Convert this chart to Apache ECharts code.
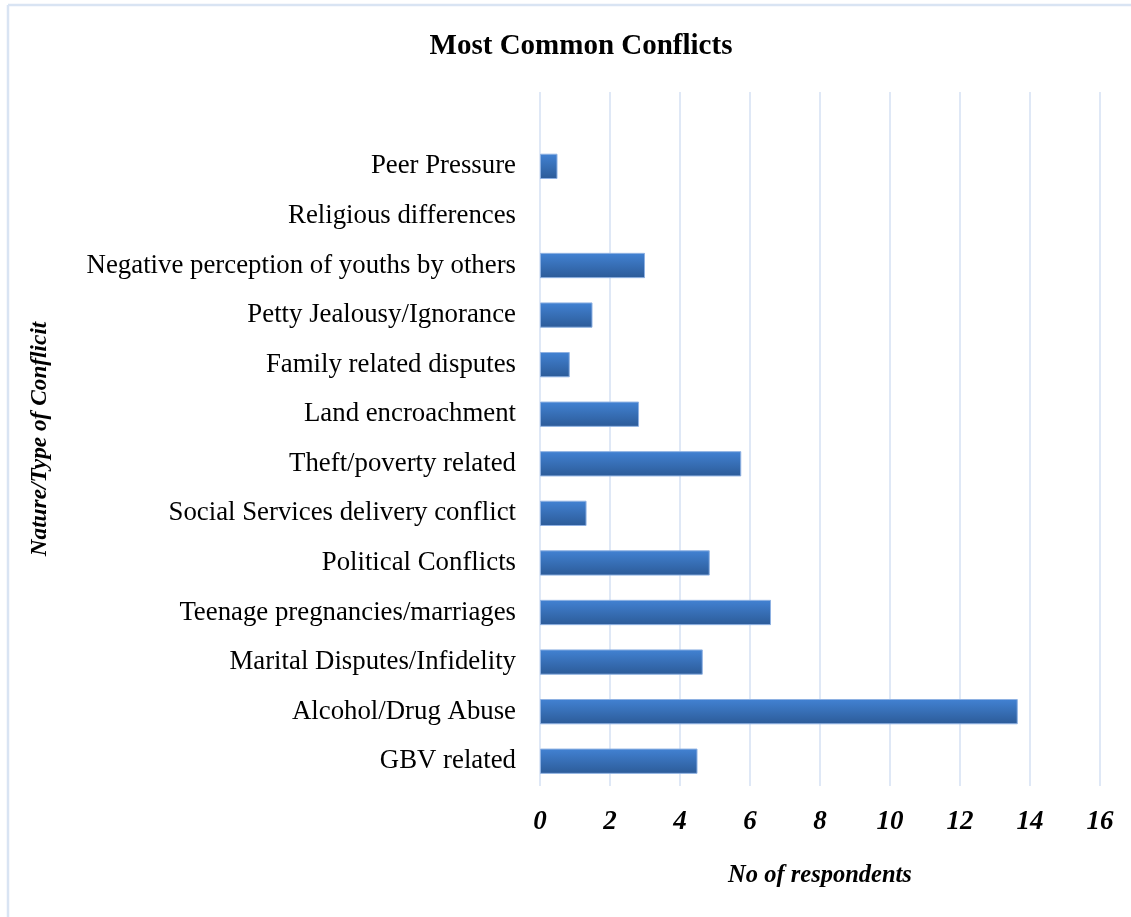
<!DOCTYPE html>
<html>
<head>
<meta charset="utf-8">
<script src="https://cdn.jsdelivr.net/npm/echarts@6/dist/echarts.min.js"></script>
<style>
  html, body { margin: 0; padding: 0; background: #fff; }
  #chart { width: 1131px; height: 917px; }
</style>
</head>
<body>
<div id="chart"></div>
<script>
// Conflict types, listed from the bottom of the axis to the top
const categories = [
  'GBV related',
  'Alcohol/Drug Abuse',
  'Marital Disputes/Infidelity',
  'Teenage pregnancies/marriages',
  'Political Conflicts',
  'Social Services delivery conflict',
  'Theft/poverty related',
  'Land encroachment',
  'Family related disputes',
  'Petty Jealousy/Ignorance',
  'Negative perception of youths by others',
  'Religious differences',
  'Peer Pressure'
];
// Number of respondents per conflict type
const respondents = [4.5, 13.65, 4.65, 6.6, 4.85, 1.33, 5.75, 2.83, 0.85, 1.5, 3.0, 0, 0.5];
const xTicks = { min: 0, max: 16, interval: 2 };

const serif = 'Liberation Serif';
const chart = echarts.init(document.getElementById('chart'));

chart.setOption({
  backgroundColor: '#ffffff',
  animation: false,
  title: {
    text: 'Most Common Conflicts',
    left: 576, top: 27, textAlign: 'center',
    textStyle: { fontFamily: serif, fontWeight: 'bold', fontSize: 29, color: '#000' }
  },
  grid: { left: 540, right: 31, top: 92, bottom: 131, containLabel: false },
  xAxis: {
    type: 'value',
    min: xTicks.min, max: xTicks.max, interval: xTicks.interval,
    axisLine: { show: false },
    axisTick: { show: false },
    splitLine: { lineStyle: { color: '#d4e1f3', width: 1.5 } },
    axisLabel: {
      margin: 23,
      fontFamily: serif, fontStyle: 'italic', fontWeight: 'bold', fontSize: 27, color: '#000'
    },
    name: 'No of respondents',
    nameLocation: 'middle',
    nameGap: 77,
    nameTextStyle: { fontFamily: serif, fontStyle: 'italic', fontWeight: 'bold', fontSize: 24.5, color: '#000' }
  },
  yAxis: {
    type: 'category',
    // an empty band sits above the last category
    data: categories.concat(['']),
    axisLine: { show: false },
    axisTick: { show: false },
    axisLabel: { margin: 24, fontFamily: serif, fontSize: 26.8, color: '#000' },
    name: 'Nature/Type of Conflicit',
    nameLocation: 'middle',
    nameRotate: 90,
    nameGap: 489,
    nameTextStyle: { fontFamily: serif, fontStyle: 'italic', fontWeight: 'bold', fontSize: 23.3, color: '#000' }
  },
  series: [{
    type: 'bar',
    data: respondents.map(v => v === 0 ? { value: 0, itemStyle: { borderWidth: 0 } } : v),
    barCategoryGap: '49%',
    itemStyle: {
      color: new echarts.graphic.LinearGradient(0, 0, 0, 1, [
        { offset: 0, color: '#4282d3' },
        { offset: 1, color: '#2c5b98' }
      ]),
      borderColor: '#8eb1e2',
      borderWidth: 1
    }
  }],
  graphic: [
    { type: 'line', shape: { x1: 8, y1: 5, x2: 1131, y2: 5 }, style: { stroke: '#d9e4f3', lineWidth: 2.5 } },
    { type: 'line', shape: { x1: 8, y1: 5, x2: 8, y2: 917 }, style: { stroke: '#d9e4f3', lineWidth: 2.5 } }
  ]
});
</script>
</body>
</html>
